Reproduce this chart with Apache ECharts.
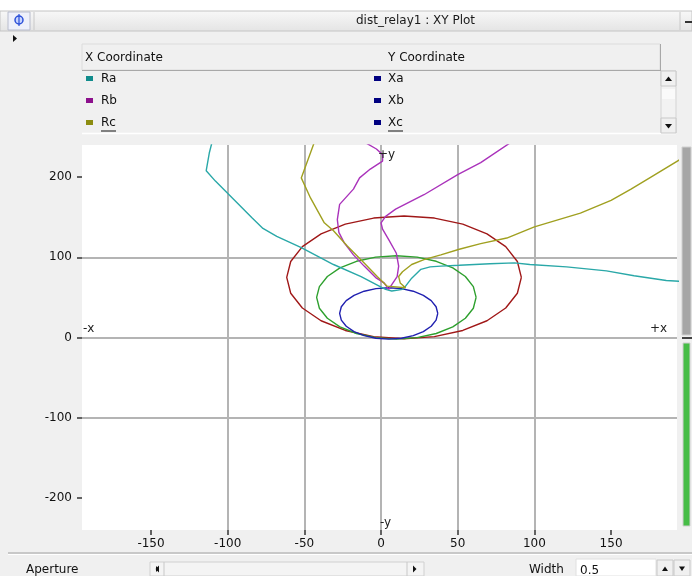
<!DOCTYPE html>
<html><head><meta charset="utf-8">
<script src="https://cdn.jsdelivr.net/npm/echarts@6/dist/echarts.min.js"></script>
<style>html,body{margin:0;padding:0;background:#f0f0f0}#c{width:692px;height:576px}</style>
</head><body><div id="c"></div>
<script>
// ---- data ----
const xTicks = [-150, -100, -50, 0, 50, 100, 150];
const yTicks = [-200, -100, 0, 100, 200];

const Ra = [-110, -112, -114, -108, -96, -84, -77, -68, -52, -31, -13, 1, 3, 7, 14, 16, 20, 26, 32, 39, 51, 71, 87, 97, 121, 147, 165, 186, 195];
const Xa = [245, 230, 208, 195, 172, 149, 136, 126, 112, 91, 76, 62, 60, 58, 60, 64, 74, 85, 88, 89, 90, 92, 93, 91, 88, 83, 77, 71, 70];

const Rb = [-13, -3, 1, 1, -7, -14, -18, -27, -28.5, -27.5, -24, -18, -11, -3, 2, 5, 7, 10.5, 11.5, 10, 5, 1, 0, 3, 9.5, 28, 50, 65, 86];
const Xb = [246, 235, 228, 220, 210, 199, 185, 166, 147, 131, 118, 103, 89, 74, 68, 60, 66, 76, 89, 105, 122, 135, 143, 151, 160, 178, 203, 218, 245];

const Rc = [-43, -52, -46, -37, -31, -22, -11, -2.5, 4, 16, 12.5, 11.5, 14, 20, 28, 39, 51, 65, 82, 100, 130, 150, 163, 176, 195];
const Xc = [246, 199, 174, 143, 133, 114, 93, 76, 64, 62, 68, 76, 82, 91, 97, 103, 110, 117, 124, 138, 155, 171, 185, 200, 222];

const zone1R = [37, 35.9, 32.7, 27.6, 21, 13.3, 5, -3.3, -11, -17.6, -22.7, -25.9, -27, -25.9, -22.7, -17.6, -11, -3.3, 5, 13.3, 21, 27.6, 32.7, 35.9, 37];
const zone1X = [30, 38.3, 46, 52.6, 57.7, 60.9, 62, 60.9, 57.7, 52.6, 46, 38.3, 30, 21.7, 14, 7.4, 2.3, -0.9, -2, -0.9, 2.3, 7.4, 14, 21.7, 30];

const zone2R = [62, 60.2, 55, 46.8, 36, 23.5, 10, -3.5, -16, -26.8, -35, -40.2, -42, -40.2, -35, -26.8, -16, -3.5, 10, 23.5, 36, 46.8, 55, 60.2, 62];
const zone2X = [50, 63.5, 76, 86.8, 95, 100.2, 102, 100.2, 95, 86.8, 76, 63.5, 50, 36.5, 24, 13.2, 5, -0.2, -2, -0.2, 5, 13.2, 24, 36.5, 50];

const zone3R = [91.5, 88.9, 81.3, 69.1, 53.3, 34.8, 15, -4.8, -23.3, -39.1, -51.3, -58.9, -61.5, -58.9, -51.3, -39.1, -23.3, -4.8, 15, 34.8, 53.3, 69.1, 81.3, 88.9, 91.5];
const zone3X = [75, 94.8, 113.3, 129.1, 141.3, 148.9, 151.5, 148.9, 141.3, 129.1, 113.3, 94.8, 75, 55.2, 36.8, 20.9, 8.8, 1.1, -1.5, 1.1, 8.8, 20.9, 36.8, 55.2, 75];

const legendRows = [
  {x: 'Ra', y: 'Xa', color: '#108c8c'},
  {x: 'Rb', y: 'Xb', color: '#8c108c'},
  {x: 'Rc', y: 'Xc', color: '#8c8c10'}
];
// ---------------------------------------

const FONT = '"DejaVu Sans", "Liberation Sans", Arial, sans-serif';
const pairs = (xs, ys) => xs.map((v, i) => [v, ys[i]]);
const isTick = (arr, v) => arr.some(t => Math.abs(t - v) < 1e-6);

function line(name, xs, ys, color) {
  return {
    name, type: 'line', data: pairs(xs, ys), showSymbol: false, symbol: 'none',
    smooth: false, clip: true, silent: true, animation: false,
    lineStyle: {color, width: 1.4}, z: 3
  };
}

const g = [];
function rect(x, y, w, h, fill, stroke, lw, z) {
  g.push({type: 'rect', shape: {x, y, width: w, height: h}, style: {fill: fill || 'none', stroke: stroke || 'none', lineWidth: lw || 1}, z: z || 1, silent: true});
}
function seg(x1, y1, x2, y2, color, w, z) {
  g.push({type: 'line', shape: {x1, y1, x2, y2}, style: {stroke: color, lineWidth: w || 1}, z: z || 2, silent: true});
}
function txt(x, y, s, opt) {
  opt = opt || {};
  g.push({type: 'text', x: 0, y: 0, z: opt.z || 5, silent: true,
    style: {text: s, x, y, fill: opt.color || '#111', font: (opt.size || 12) + 'px ' + FONT,
      align: opt.align || 'left', textAlign: opt.align || 'left',
      verticalAlign: 'middle', textVerticalAlign: 'middle'}});
}
function poly(points, fill, z) {
  g.push({type: 'polygon', shape: {points}, style: {fill}, z: z || 3, silent: true});
}

// top white strip + title bar
rect(0, 0, 692, 11, '#ffffff');
g.push({type: 'rect', shape: {x: 0, y: 11, width: 692, height: 20}, silent: true, z: 1,
  style: {fill: new echarts.graphic.LinearGradient(0, 0, 0, 1, [{offset: 0, color: '#f8f8f8'}, {offset: 1, color: '#e4e4e4'}]), stroke: '#c4c4c4', lineWidth: 1}});
rect(8, 12, 22, 18, '#eef0fa', '#b8bccc', 1, 2);
g.push({type: 'circle', shape: {cx: 19, cy: 20, r: 4}, style: {fill: '#c8d4ff', stroke: '#2b4fd8', lineWidth: 1.5}, z: 3, silent: true});
seg(19, 14, 19, 26, '#2b4fd8', 1.2, 3);
seg(34, 12, 34, 30, '#c8c8c8', 1, 2);
seg(680, 12, 680, 30, '#c8c8c8', 1, 2);
seg(685, 22, 692, 22, '#333', 2, 3);
txt(356, 21, 'dist_relay1 : XY Plot', {color: '#1a1a1a'});
poly([[13, 35], [17, 38.5], [13, 42]], '#111');

// legend table
rect(82, 44, 578, 26, '#f0f0f0', '#dcdcdc', 1, 1);
seg(82, 70.5, 660, 70.5, '#a8a8a8', 1);
seg(660.5, 44, 660.5, 71, '#a8a8a8', 1);
txt(85, 58, 'X Coordinate');
txt(388, 58, 'Y Coordinate');
const rowY = [79, 101, 123];
legendRows.forEach((r, i) => {
  rect(86, rowY[i] - 3, 7, 5, r.color, null, 1, 2);
  txt(101, rowY[i], r.x);
  rect(374, rowY[i] - 3, 7, 5, '#000080', null, 1, 2);
  txt(388, rowY[i], r.y);
});
seg(101, 131, 116, 131, '#111', 1);
seg(388, 131, 403, 131, '#111', 1);
seg(82, 133.5, 676, 133.5, '#ffffff', 1.5);
// legend scrollbar
rect(661, 71, 15, 62, '#f2f2f2', '#d4d4d4', 1, 1);
rect(661, 71, 15, 15, '#f0f0f0', '#c8c8c8', 1, 2);
rect(661, 118, 15, 15, '#f0f0f0', '#c8c8c8', 1, 2);
rect(662, 89, 13, 10, '#fafafa', null, 1, 2);
poly([[665, 81], [668.5, 76.5], [672, 81]], '#111');
poly([[665, 124], [668.5, 128.5], [672, 124]], '#111');

// right side bars
rect(682, 147, 9, 188, '#a6a6a6', '#d0d0d0', 1, 1);
seg(682, 338, 692, 338, '#444', 2);
rect(683, 343, 7, 183, '#46bd46', '#cfcfcf', 1, 1);

// bottom strip
seg(8, 553, 692, 553, '#a0a0a0', 1);
seg(8, 554.5, 692, 554.5, '#ffffff', 1);
txt(26, 570, 'Aperture');
rect(150, 562, 274, 14, '#f4f4f4', '#d0d0d0', 1, 1);
seg(164, 562, 164, 576, '#c8c8c8', 1);
seg(407, 562, 407, 576, '#c8c8c8', 1);
poly([[159, 569], [156, 566], [156, 572]].map(p => p), '#111');
poly([[155.5, 569], [159, 565.5], [159, 572.5]], '#111');
poly([[416.5, 569], [413, 565.5], [413, 572.5]], '#111');
txt(529, 570, 'Width');
rect(576, 559, 80, 17, '#ffffff', '#e0e0e0', 1, 1);
txt(580, 571, '0.5');
rect(657, 560, 16, 16, '#f0f0f0', '#c8c8c8', 1, 1);
rect(674, 560, 16, 16, '#f0f0f0', '#c8c8c8', 1, 1);
poly([[662, 571], [665, 566.5], [668, 571]], '#111');
poly([[679, 566.5], [682, 571], [685, 566.5]], '#111');

// axis direction labels
txt(378, 155, '+y', {z: 20, color: '#222'});
txt(380, 523, '-y', {z: 20, color: '#222'});
txt(83, 329, '-x', {z: 20, color: '#222'});
txt(650, 329, '+x', {z: 20, color: '#222'});

const chart = echarts.init(document.getElementById('c'), null, {renderer: 'canvas'});
chart.setOption({
  animation: false,
  backgroundColor: '#f0f0f0',
  grid: {left: 82, top: 145, width: 595, height: 385, show: true, backgroundColor: '#ffffff', borderWidth: 0, containLabel: false, outerBoundsMode: 'none'},
  xAxis: {
    type: 'value', min: -195, max: 193, splitNumber: 8, position: 'bottom',
    axisLine: {show: false, onZero: false},
    axisTick: {show: true, inside: false, length: 5, customValues: xTicks, lineStyle: {color: '#333', width: 1.5}},
    axisLabel: {margin: 8, fontFamily: FONT, fontSize: 12, color: '#111', customValues: xTicks,
      formatter: v => isTick(xTicks, v) ? String(v) : ''},
    splitLine: {show: true, showMinLine: false, showMaxLine: false, lineStyle: {color: '#b4b4b4', width: 2}}
  },
  yAxis: {
    type: 'value', min: -240, max: 240, splitNumber: 5, position: 'left',
    axisLine: {show: false, onZero: false},
    axisTick: {show: true, inside: false, length: 5, customValues: yTicks, lineStyle: {color: '#333', width: 1.5}},
    axisLabel: {margin: 10, fontFamily: FONT, fontSize: 12, color: '#111', customValues: yTicks,
      formatter: v => isTick(yTicks, v) ? String(v) : ''},
    splitLine: {show: true, showMinLine: false, showMaxLine: false, lineStyle: {color: '#b4b4b4', width: 2}}
  },
  graphic: g,
  series: [
    line('Zone 3', zone3R, zone3X, '#a01818'),
    line('Zone 2', zone2R, zone2X, '#2ea02e'),
    line('Zone 1', zone1R, zone1X, '#2020b0'),
    line('Ra/Xa', Ra, Xa, '#2aa8a8'),
    line('Rb/Xb', Rb, Xb, '#aa33bb'),
    line('Rc/Xc', Rc, Xc, '#a0a020')
  ]
});
</script>
</body></html>
